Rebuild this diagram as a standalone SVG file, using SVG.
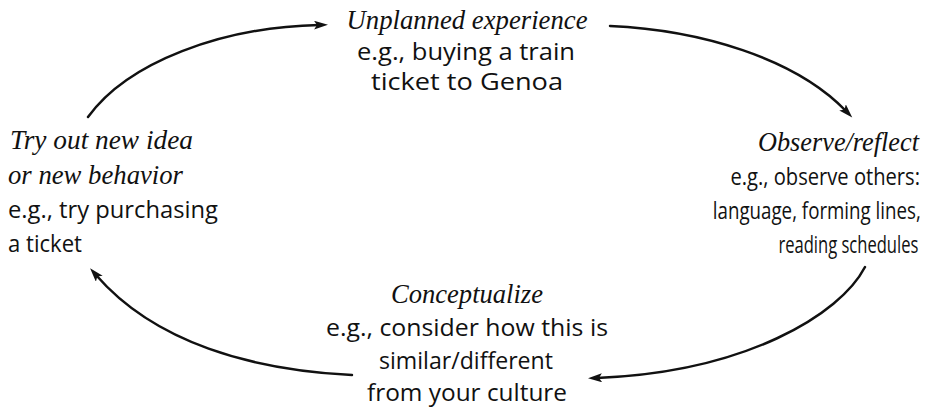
<svg xmlns="http://www.w3.org/2000/svg" width="936" height="408" viewBox="0 0 936 408">
  <style>
    .bg { fill: #ffffff; }
    .head { font-family: "Liberation Serif", serif; font-style: italic; font-size: 26.5px; fill: #111; }
    .body { font-family: "Open Sans", "Liberation Sans", sans-serif; fill: #111; }
    .b-lg { font-size: 24px; }
    .b-md { font-size: 23px; }
    .b-sm { font-size: 23.5px; }
    .mid { text-anchor: middle; }
    .end { text-anchor: end; }
    .conn { fill: none; stroke: #111; stroke-width: 2.5; stroke-linecap: round; marker-end: url(#arrow); }
  </style>
  <defs>
    <marker id="arrow" markerUnits="userSpaceOnUse" markerWidth="16" markerHeight="10" refX="5" refY="4.5" orient="auto">
      <path d="M0,0 L14,4.5 L0,9 L3,4.5 z" fill="#111"/>
    </marker>
  </defs>
  <rect class="bg" x="0" y="0" width="936" height="408"/>

  <g id="connectors">
    <path class="conn" d="M88,117 C128,62 222,27 319,25"/>
    <path class="conn" d="M610,26 C700,30 795,58 846,111"/>
    <path class="conn" d="M865,267 C840,315 745,372 597,378"/>
    <path class="conn" d="M352,375 C252,370 155,343 96,275"/>
  </g>

  <g id="node-unplanned">
    <text class="head mid" x="467" y="29" textLength="241" lengthAdjust="spacingAndGlyphs">Unplanned experience</text>
    <text class="body b-lg mid" x="466" y="60" textLength="218" lengthAdjust="spacingAndGlyphs">e.g., buying a train</text>
    <text class="body b-lg mid" x="467" y="90" textLength="192" lengthAdjust="spacingAndGlyphs">ticket to Genoa</text>
  </g>

  <g id="node-observe">
    <text class="head end" x="919" y="151" textLength="161" lengthAdjust="spacingAndGlyphs">Observe/reflect</text>
    <g transform="translate(920,0) scale(0.8,1)">
      <text class="body b-sm end" x="0" y="185" textLength="237" lengthAdjust="spacingAndGlyphs">e.g., observe others:</text>
      <text class="body b-sm end" x="1" y="219" textLength="260" lengthAdjust="spacingAndGlyphs">language, forming lines,</text>
      <text class="body b-sm end" x="-2" y="253" textLength="175" lengthAdjust="spacingAndGlyphs">reading schedules</text>
    </g>
  </g>

  <g id="node-conceptualize">
    <text class="head mid" x="467" y="303" textLength="152" lengthAdjust="spacingAndGlyphs">Conceptualize</text>
    <text class="body b-lg mid" x="467" y="336" textLength="282" lengthAdjust="spacingAndGlyphs">e.g., consider how this is</text>
    <text class="body b-lg mid" x="466" y="369" textLength="174" lengthAdjust="spacingAndGlyphs">similar/different</text>
    <text class="body b-lg mid" x="467" y="401" textLength="200" lengthAdjust="spacingAndGlyphs">from your culture</text>
  </g>

  <g id="node-try">
    <text class="head" x="10" y="149" textLength="183" lengthAdjust="spacingAndGlyphs">Try out new idea</text>
    <text class="head" x="8" y="184" textLength="175" lengthAdjust="spacingAndGlyphs">or new behavior</text>
    <text class="body b-md" x="8" y="218" textLength="210" lengthAdjust="spacingAndGlyphs">e.g., try purchasing</text>
    <text class="body b-md" x="8" y="252" textLength="74" lengthAdjust="spacingAndGlyphs">a ticket</text>
  </g>
</svg>
